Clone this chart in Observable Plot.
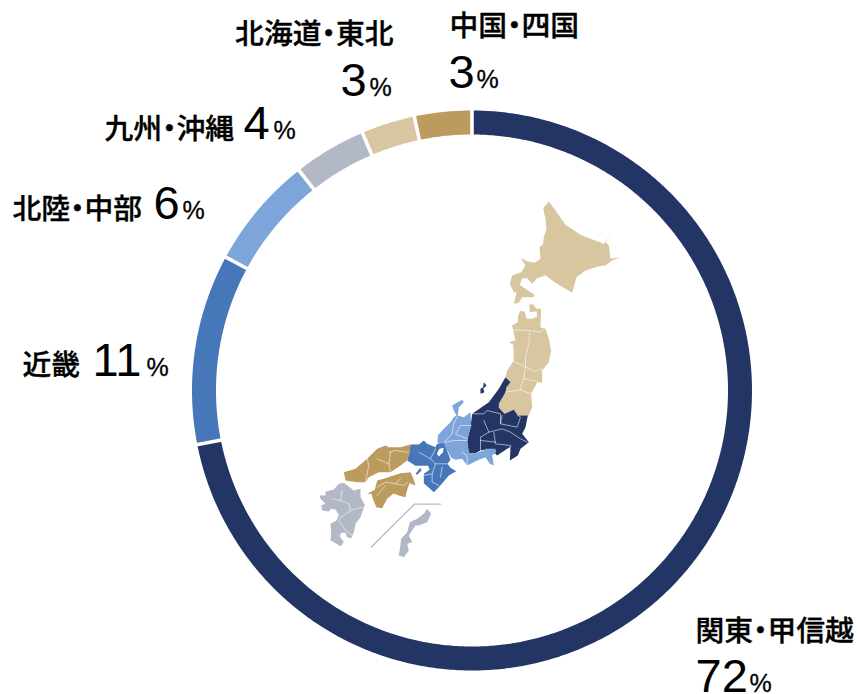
<!DOCTYPE html>
<html lang="ja"><head><meta charset="utf-8">
<script src="https://cdn.jsdelivr.net/npm/d3@7"></script>
<script src="https://cdn.jsdelivr.net/npm/@observablehq/plot@0.6"></script>
<style>html,body{margin:0;padding:0;background:#fff}svg{display:block}</style>
</head><body><div id="chart"></div>
<script>
const regions = ["関東・甲信越","近畿","北陸・中部","九州・沖縄","北海道・東北","中国・四国"];
const shares = [71.9,11.0,6.5,4.2,3.1,3.3];
const shown = ["72","11","6","4","3","3"];
const colors = ["#223564","#4678b9","#7da5da","#b2b8c6","#d8c6a0","#bb9c5e"];

// Map outlines, in tripled map units per sheet (origin given by each sheet)
const sheetNorth = [490,195], sheetCentral = [430,300], sheetWest = [335,430], sheetSouth = [310,475];
const hokkaido = [[175,18],[158,38],[165,70],[168,100],[160,125],[158,145],[147,155],[150,190],[132,202],[112,198],[90,187],[105,210],[92,230],[65,240],[58,265],[70,290],[78,290],[70,325],[85,322],[95,305],[130,305],[132,298],[108,282],[88,268],[95,248],[110,248],[125,265],[140,248],[165,240],[195,262],[245,292],[258,245],[285,225],[325,212],[345,210],[365,195],[390,185],[360,190],[355,150],[345,140],[365,112],[340,145],[300,130],[270,118],[225,88],[195,45]];
const tohoku = [[268,32],[282,32],[288,55],[305,55],[320,48],[318,32],[298,35],[296,12],[308,12],[318,25],[332,25],[330,80],[345,85],[355,115],[362,150],[355,185],[335,210],[335,245],[320,245],[302,280],[305,320],[295,345],[262,345],[250,328],[222,340],[205,322],[205,310],[225,275],[228,260],[240,245],[225,230],[230,210],[250,180],[248,132],[235,125],[255,120],[250,100],[245,75],[262,65],[262,50]];
const kanto = [[225,230],[240,245],[228,260],[225,275],[205,310],[205,322],[222,340],[250,328],[262,345],[292,345],[285,380],[275,400],[295,425],[270,445],[262,465],[238,480],[240,440],[245,435],[222,450],[200,465],[180,445],[150,450],[135,458],[115,458],[110,420],[120,380],[125,340],[175,305],[205,265]];
const sado = [[160,245],[168,255],[158,265],[162,275],[150,280],[150,265],[158,260]];
const chubu = [[65,315],[95,298],[100,305],[85,320],[82,345],[100,350],[120,335],[122,375],[110,420],[115,458],[135,458],[160,450],[165,445],[195,445],[197,455],[185,465],[190,495],[178,490],[165,470],[140,480],[110,495],[95,475],[75,478],[62,472],[52,452],[40,435],[21,426],[22,405],[40,385],[60,365],[70,350],[78,345],[70,330]];
const kinki = [[225,42],[250,42],[265,30],[275,40],[300,50],[305,40],[325,38],[338,68],[345,88],[336,100],[345,112],[362,122],[340,135],[310,170],[295,185],[265,158],[265,130],[282,118],[278,106],[258,106],[240,106],[215,90],[222,65]];
const biwa = [[312,55],[325,52],[322,65],[310,78],[304,70]];
const awaji = [[240,130],[255,112],[258,120],[245,133]];
const chugoku = [[225,42],[222,65],[215,90],[195,105],[165,125],[130,125],[100,140],[90,155],[65,155],[30,150],[25,125],[60,115],[95,85],[125,55],[150,45],[160,50],[195,50]];
const shikoku = [[95,190],[118,178],[125,150],[145,145],[165,138],[195,128],[225,125],[232,140],[240,165],[222,158],[215,178],[210,200],[190,195],[174,189],[155,205],[140,233],[123,231],[112,205],[108,190]];
const kyushu = [[45,48],[70,42],[85,25],[100,22],[130,45],[150,40],[150,65],[163,88],[155,110],[150,125],[135,145],[130,170],[122,188],[110,185],[105,172],[92,172],[88,182],[100,200],[90,212],[70,200],[60,195],[62,170],[60,145],[78,135],[85,118],[75,102],[62,100],[55,108],[35,105],[32,90],[45,85],[30,70],[28,60],[45,60]];
const okinawa = [[350,100],[362,115],[350,140],[325,150],[315,150],[305,165],[295,180],[305,200],[290,205],[295,225],[280,245],[265,240],[268,220],[272,190],[290,170],[298,140],[320,130],[340,115]];
const insetLine = [[182,215],[312,86],[390,86]];
const bordersCentral = [
  [[245,88],[300,90],[330,95],[340,88]],[[298,95],[295,130],[285,170],[285,200]],[[285,200],[280,230],[270,265]],[[285,200],[315,212],[335,205]],[[250,182],[285,200]],[[270,268],[302,280]],[[225,275],[270,268]],[[278,235],[320,242]],
  [[125,340],[160,340],[170,330],[210,340],[210,370]],[[215,345],[210,370],[260,380],[270,350],[262,345]],[[160,360],[175,395],[150,410],[150,450]],[[175,395],[215,385],[240,395],[270,415],[290,425]],[[190,395],[195,430],[240,435]],[[150,420],[195,425]],
  [[82,345],[70,370],[65,400],[40,425]],[[122,375],[90,375],[75,400],[110,415]],[[110,420],[70,420],[45,425]],[[95,455],[110,465],[110,495]]];
const bordersWest = [
  [[95,85],[100,105],[90,155]],[[125,85],[160,100]],[[160,65],[180,60],[215,65]],[[165,65],[160,100],[165,125]],
  [[125,170],[150,155],[180,160],[195,145]],[[180,160],[205,165],[215,155]],[[125,195],[150,165]],
  [[250,65],[285,85],[300,100],[335,100]],[[285,85],[300,55]],[[300,100],[290,130],[290,155],[310,165]],[[320,110],[315,140]],[[265,135],[290,130]]];
const bordersSouth = [[[65,70],[90,75],[115,85],[120,105],[155,95]],[[120,105],[85,130]],[[85,135],[105,165],[125,180]],[[95,45],[90,75]]];

// Label layout: name, then big number and % sign, by baseline
const labelLayout = [
  {i:0,nx:695,ny:640,na:"start", vx:695,vy:691,px:749},
  {i:1,nx:22, ny:374,na:"start", vx:92, vy:375,px:146},
  {i:2,nx:12, ny:218,na:"start", vx:153,vy:218,px:182},
  {i:3,nx:104,ny:138,na:"start", vx:243,vy:138,px:273},
  {i:4,nx:393,ny:43, na:"end",   vx:340,vy:95, px:369},
  {i:5,nx:449,ny:35, na:"start", vx:448,vy:87, px:476}
];

const centre = {x:471.5,y:390}, ringR = 268, ringWidth = 24;
const polar = (deg,r) => ({x:centre.x+r*Math.sin(deg*Math.PI/180), y:centre.y-r*Math.cos(deg*Math.PI/180)});

let acc = 0;
const arcs = [], cuts = [];
shares.forEach((s,i)=>{
  const a0 = acc/100*360, a1 = (acc+s)/100*360; acc += s;
  const n = Math.ceil((a1-a0)*2);
  arcs.push({color:colors[i], pts:d3.range(n+1).map(k=>polar(a0+(a1-a0)*k/n,ringR))});
  const inner = polar(a0,ringR-ringWidth/2-2), outer = polar(a0,ringR+ringWidth/2+2);
  cuts.push({x1:inner.x,y1:inner.y,x2:outer.x,y2:outer.y});
});

const sheet = (o,pts) => pts.map(([x,y])=>({x:o[0]+x/3,y:o[1]+y/3}));
const area = (o,pts,fill) => Plot.line(sheet(o,pts),{x:"x",y:"y",fill,stroke:"none",curve:"linear-closed"});
const seams = (o,list) => list.map(l=>Plot.line(sheet(o,l),{x:"x",y:"y",stroke:"#fff",strokeOpacity:0.7,strokeWidth:0.8}));

const cjk = '"Noto Sans CJK JP","Noto Sans",sans-serif';
const num = '"Liberation Sans",Arial,sans-serif';

const chart = Plot.plot({
  width:858,height:694,margin:0,
  x:{domain:[0,858],range:[0,858],axis:null},
  y:{domain:[0,694],range:[0,694],axis:null},
  style:{background:"#fff",fontFeatureSettings:'"palt"'},
  marks:[
    ...arcs.map(a=>Plot.line(a.pts,{x:"x",y:"y",stroke:a.color,strokeWidth:ringWidth,strokeLinecap:"butt",strokeLinejoin:"round"})),
    Plot.link(cuts,{x1:"x1",y1:"y1",x2:"x2",y2:"y2",stroke:"#fff",strokeWidth:3.6}),
    area(sheetNorth,hokkaido,colors[4]),
    area(sheetCentral,tohoku,colors[4]),
    area(sheetCentral,kanto,colors[0]),
    area(sheetCentral,sado,colors[0]),
    area(sheetCentral,chubu,colors[2]),
    area(sheetWest,kinki,colors[1]),
    area(sheetWest,biwa,"#fff"),
    area(sheetWest,awaji,colors[1]),
    area(sheetWest,chugoku,colors[5]),
    area(sheetWest,shikoku,colors[5]),
    area(sheetSouth,kyushu,colors[3]),
    area(sheetSouth,okinawa,colors[3]),
    ...seams(sheetCentral,bordersCentral),
    ...seams(sheetWest,bordersWest),
    ...seams(sheetSouth,bordersSouth),
    Plot.line(sheet(sheetSouth,insetLine),{x:"x",y:"y",stroke:"#b8bcc4",strokeWidth:1.3}),
    ...labelLayout.map(l=>Plot.text([regions[l.i]],{x:()=>l.nx,y:()=>l.ny,text:d=>d,textAnchor:l.na,lineAnchor:"bottom",fontFamily:cjk,fontWeight:500,fontSize:28.8,fill:"#000",stroke:"#000",strokeWidth:0.35})),
    ...labelLayout.map(l=>Plot.text([shown[l.i]],{x:()=>l.vx,y:()=>l.vy,text:d=>d,textAnchor:"start",lineAnchor:"bottom",fontFamily:num,fontSize:47,fill:"#000"})),
    ...labelLayout.map(l=>Plot.text(["%"],{x:()=>l.px,y:()=>l.vy,text:d=>d,textAnchor:"start",lineAnchor:"bottom",fontFamily:num,fontSize:25,fill:"#000",stroke:"#000",strokeWidth:0.3}))
  ]
});
document.getElementById("chart").append(chart);
</script></body></html>
